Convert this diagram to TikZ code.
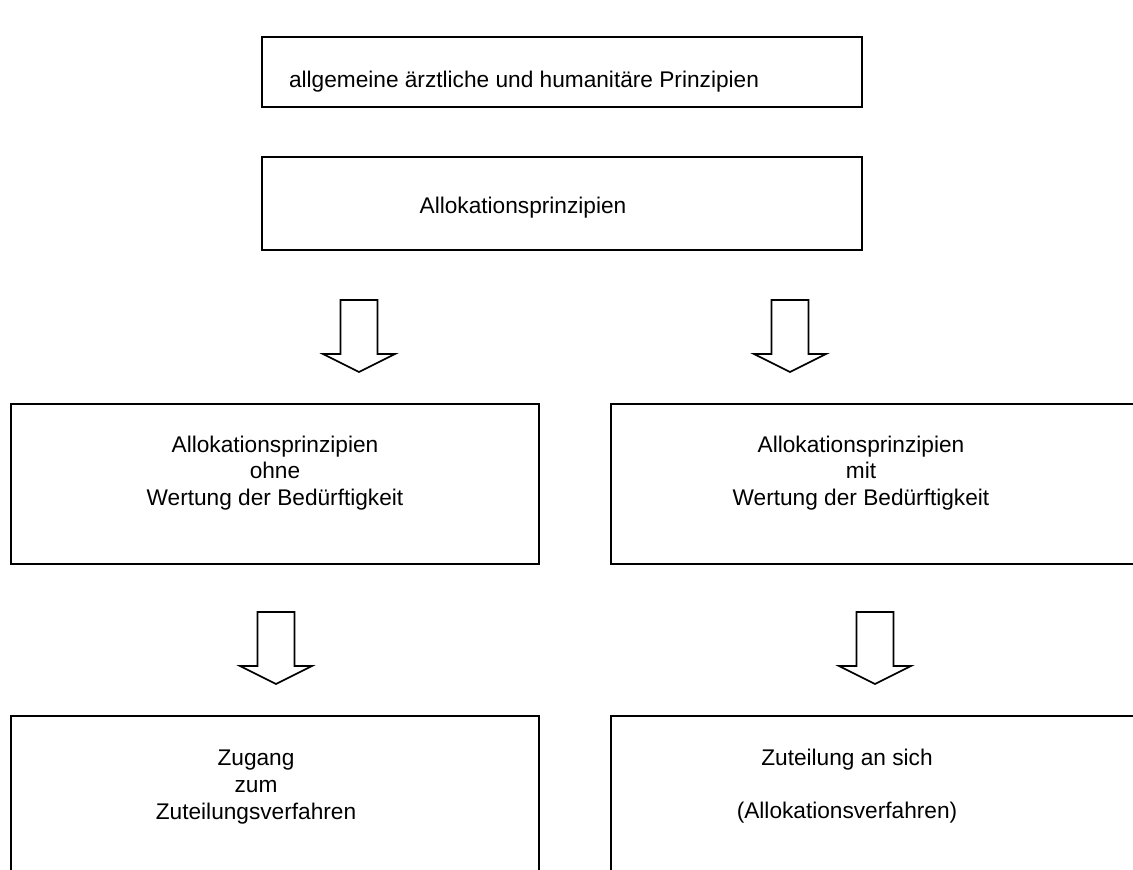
\documentclass[tikz,border=0pt]{standalone}
\usepackage{fontspec}
\setmainfont{Liberation Sans}
\begin{document}
\begin{tikzpicture}[x=0.75pt, y=-0.75pt, line width=1.3pt,
        boxtext/.style={align=center, inner sep=0pt, font=\fontsize{17}{20}\selectfont},
        hollow/.style={draw, fill=white, line join=miter}]
        \useasboundingbox (0,0) rectangle (1133,870);
        \clip (0,0) rectangle (1133,870);

        % boxes
        \draw (262,37) rectangle (862,107);
        \draw (262,157) rectangle (862,250);
        \draw (11,404) rectangle (539,564);
        \draw (611,404) rectangle (1150,564);
        \draw (11,716) rectangle (539,890);
        \draw (611,716) rectangle (1150,890);

        \node[boxtext] (general) at (524,82) {allgemeine ärztliche und humanitäre Prinzipien};
        \node[boxtext] (alloc) at (523,208) {Allokationsprinzipien};
        \node[boxtext] (without) at (275,473) {Allokationsprinzipien\\ohne\\Wertung der Bedürftigkeit};
        \node[boxtext] (with) at (861,473) {Allokationsprinzipien\\mit\\Wertung der Bedürftigkeit};
        \node[boxtext] (access) at (256,787) {Zugang\\zum\\Zuteilungsverfahren};
        \node[boxtext] (share) at (847,786) {Zuteilung an sich\\[20pt](Allokationsverfahren)};

        % hollow arrows
        \foreach \cx/\ty in {359/300, 790/300, 276/612, 875/612} {
            \draw[hollow] (\cx-18.5,\ty) -- (\cx+18.5,\ty) -- (\cx+18.5,\ty+54)
                -- (\cx+36,\ty+54) -- (\cx,\ty+72) -- (\cx-36,\ty+54)
                -- (\cx-18.5,\ty+54) -- cycle;
        }
    \end{tikzpicture}
\end{document}
